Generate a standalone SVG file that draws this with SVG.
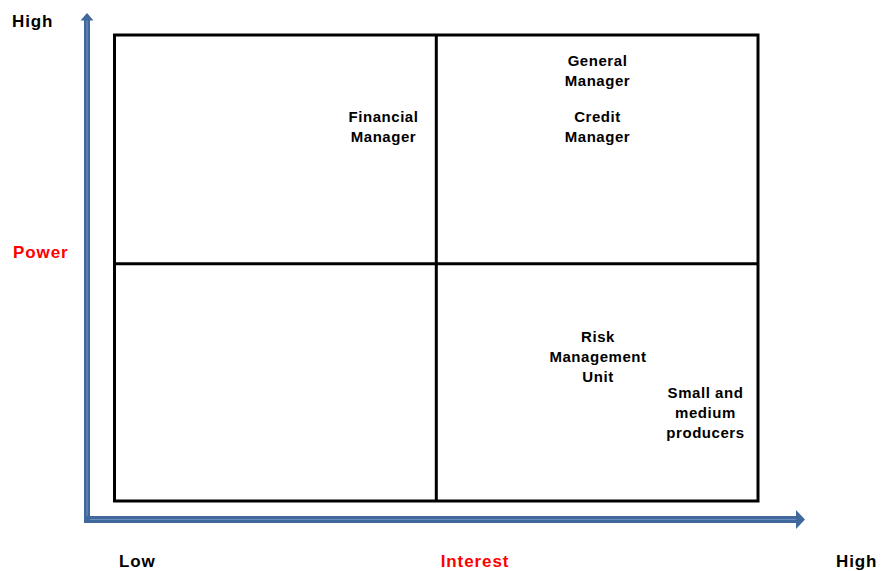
<svg xmlns="http://www.w3.org/2000/svg" width="882" height="571" viewBox="0 0 882 571">
  <style>
    text { font-family: "Liberation Sans", Arial, sans-serif; font-weight: bold; }
    .axis-label { font-size: 17px; letter-spacing: 0.9px; fill: #000; }
    .axis-title { font-size: 17px; letter-spacing: 0.9px; fill: #ff0000; }
    .item { font-size: 15px; letter-spacing: 0.55px; fill: #000; text-anchor: middle; }
    .grid { fill: none; stroke: #000; stroke-width: 3; }
    .shaft { fill: #41689c; }
    .shine { stroke: #6a8fc0; stroke-width: 1.2; }
  </style>
  <rect width="882" height="571" fill="#fff"/>

  <!-- power / interest axes -->
  <g id="connectors">
    <g id="axis-power">
      <rect class="shaft" x="84" y="19" width="6" height="504"/>
      <line class="shine" x1="87" y1="20" x2="87" y2="516"/>
      <polygon class="shaft" points="87,13 93.5,20.5 80.5,20.5"/>
    </g>
    <g id="axis-interest">
      <rect class="shaft" x="84" y="516" width="713" height="7"/>
      <line class="shine" x1="90" y1="519.5" x2="796" y2="519.5"/>
      <polygon class="shaft" points="805,519.5 796,510 796,529"/>
    </g>
  </g>

  <!-- 2x2 grid -->
  <g id="matrix">
    <rect class="grid" x="114.5" y="35" width="643.5" height="466"/>
    <line class="grid" x1="436.3" y1="35" x2="436.3" y2="501"/>
    <line class="grid" x1="114.5" y1="263.8" x2="758" y2="263.8"/>
  </g>

  <!-- axis labels -->
  <g id="labels">
    <text class="axis-label" x="12" y="27">High</text>
    <text class="axis-title" x="13" y="257.5">Power</text>
    <text class="axis-label" x="119" y="566.5">Low</text>
    <text class="axis-title" x="475" y="566.5" text-anchor="middle">Interest</text>
    <text class="axis-label" x="836" y="567">High</text>
  </g>

  <!-- stakeholders -->
  <g id="financial-manager">
    <text class="item" x="383.5" y="122">Financial</text>
    <text class="item" x="383.5" y="142">Manager</text>
  </g>
  <g id="general-manager">
    <text class="item" x="597.5" y="66">General</text>
    <text class="item" x="597.5" y="86">Manager</text>
  </g>
  <g id="credit-manager">
    <text class="item" x="597.5" y="122">Credit</text>
    <text class="item" x="597.5" y="142">Manager</text>
  </g>
  <g id="risk-management-unit">
    <text class="item" x="598" y="341.5">Risk</text>
    <text class="item" x="598" y="361.5">Management</text>
    <text class="item" x="598" y="381.5">Unit</text>
  </g>
  <g id="small-medium-producers">
    <text class="item" x="705.5" y="398">Small and</text>
    <text class="item" x="705.5" y="418">medium</text>
    <text class="item" x="705.5" y="438">producers</text>
  </g>
</svg>
